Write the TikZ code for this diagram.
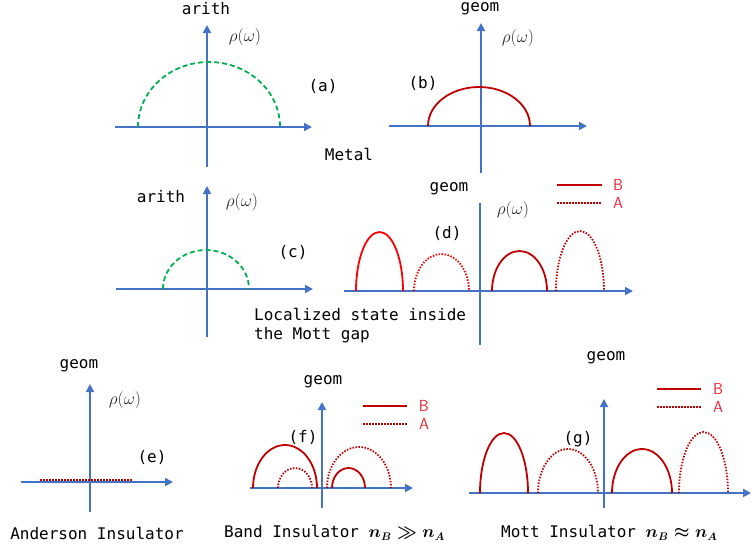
\documentclass[tikz,border=0pt]{standalone}
\usepackage{fontspec}
\setmonofont{DejaVu Sans Mono}
\usepackage{amsmath}
\usetikzlibrary{arrows.meta}
\definecolor{axisblue}{RGB}{68,114,196}
\definecolor{bandred}{RGB}{192,0,0}
\definecolor{keyred}{RGB}{232,40,56}
\definecolor{dosgreen}{RGB}{0,176,80}
\begin{document}
\begin{tikzpicture}[x=1pt,y=-1pt,
    axis/.style={axisblue,line width=1.8pt,-{Triangle[length=8pt,width=8pt]}},
    bare/.style={axisblue,line width=1.8pt},
    bsolid/.style={bandred,line width=1.8pt},
    bdot/.style={bandred,line width=1.8pt,dash pattern=on 1.5pt off 1.5pt},
    garith/.style={dosgreen,line width=1.8pt,dash pattern=on 5pt off 3pt},
    lbl/.style={font=\ttfamily\fontsize{16}{19}\selectfont,text=black,inner sep=0pt},
    rho/.style={font=\fontsize{16}{18}\selectfont,text=black!85,inner sep=0pt},
    key/.style={font=\sffamily\fontsize{16}{18}\selectfont,text=keyred,inner sep=0pt}]
            \useasboundingbox (0,0) rectangle (752,550);

            % (a) metal, arithmetic average
            \draw[axis] (207,167) -- (207,25);
            \draw[axis] (115,127) -- (312,127);
            \draw[garith] (138,127) arc[start angle=180,end angle=0,x radius=71pt,y radius=65pt];
            \node[lbl] (arithA) at (206,9) {arith};
            \node[rho] (rhoA) at (245,37) {$\rho(\omega)$};
            \node[lbl] (labA) at (323,86) {(a)};
            \node[lbl] (metal) at (349,154) {Metal};

            % (b) metal, geometric average
            \draw[axis] (481,173) -- (481,23);
            \draw[axis] (389,126) -- (587,126);
            \draw[bsolid] (428,126) arc[start angle=180,end angle=0,x radius=51pt,y radius=39pt];
            \node[lbl] (geomB) at (480,9) {geom};
            \node[rho] (rhoB) at (518,38) {$\rho(\omega)$};
            \node[lbl] (labB) at (423,83) {(b)};

            % (c) arithmetic average in the gap
            \draw[axis] (207,337) -- (207,186);
            \draw[axis] (116,289) -- (313,289);
            \draw[garith] (163,289) arc[start angle=180,end angle=0,x radius=43pt,y radius=39pt];
            \node[lbl] (arithC) at (161,197) {arith};
            \node[rho] (rhoC) at (242,202) {$\rho(\omega)$};
            \node[lbl] (labC) at (293,252) {(c)};
            \node[lbl,anchor=west,align=left] (local) at (254,326) {Localized state inside\\the Mott gap};

            % (d) geometric average in the gap
            \draw[bare] (480,345) -- (480,203);
            \draw[axis] (344,291) -- (633,291);
            \draw[bsolid,red] (356,291) arc[start angle=180,end angle=0,x radius=23.5pt,y radius=59pt];
            \draw[bdot,red] (414,291) arc[start angle=180,end angle=0,x radius=27.5pt,y radius=37pt];
            \draw[bsolid] (492,291) arc[start angle=180,end angle=0,x radius=27.5pt,y radius=40pt];
            \draw[bdot] (556,291) arc[start angle=180,end angle=0,x radius=24pt,y radius=60pt];
            \node[lbl] (geomD) at (449,189) {geom};
            \node[rho] (rhoD) at (513,210) {$\rho(\omega)$};
            \node[lbl] (labD) at (447,233) {(d)};
            \coordinate (d1) at (557,185);
            \coordinate (d2) at (602,185);
            \coordinate (d3) at (557,203);
            \coordinate (d4) at (602,203);
            \draw[bsolid] (d1) -- (d2);
            \draw[bdot] (d3) -- (d4);
            \node[key] (keyBd) at (618,185) {B};
            \node[key] (keyAd) at (618,203) {A};

            % (e) Anderson insulator
            \draw[axis] (90,512) -- (90,384);
            \draw[axis] (21,482) -- (173,482);
            \coordinate (e1) at (40,480);
            \coordinate (e2) at (133,480);
            \draw[bdot] (e1) -- (e2);
            \node[lbl] (geomE) at (79,366) {geom};
            \node[rho] (rhoE) at (125,400) {$\rho(\omega)$};
            \node[lbl] (labE) at (152,457) {(e)};
            \node[lbl] (anderson) at (97,533) {Anderson Insulator};

            % (f) band insulator
            \draw[axis] (322,508) -- (322,402);
            \draw[axis] (250,488) -- (413,488);
            \draw[bsolid] (253,488) arc[start angle=180,end angle=0,x radius=32pt,y radius=43pt];
            \draw[bdot] (278,488) arc[start angle=180,end angle=0,x radius=17pt,y radius=20pt];
            \draw[bdot] (327,488) arc[start angle=180,end angle=0,x radius=32pt,y radius=41pt];
            \draw[bsolid] (332,488) arc[start angle=180,end angle=0,x radius=16.5pt,y radius=20pt];
            \node[lbl] (geomF) at (323,382) {geom};
            \node[lbl] (labF) at (303,437) {(f)};
            \node[lbl,anchor=west] (band) at (224,533) {Band Insulator {\boldmath$n_B \gg n_A$}};
            \coordinate (f1) at (363,406);
            \coordinate (f2) at (407,406);
            \coordinate (f3) at (363,424);
            \coordinate (f4) at (407,424);
            \draw[bsolid] (f1) -- (f2);
            \draw[bdot] (f3) -- (f4);
            \node[key] (keyBf) at (424,406) {B};
            \node[key] (keyAf) at (424,424) {A};

            % (g) Mott insulator
            \draw[axis] (604,508) -- (604,399);
            \draw[axis] (469,493) -- (751,493);
            \draw[bsolid] (480,493) arc[start angle=180,end angle=0,x radius=24pt,y radius=60pt];
            \draw[bdot] (538,493) arc[start angle=180,end angle=0,x radius=30pt,y radius=44pt];
            \draw[bsolid] (612,493) arc[start angle=180,end angle=0,x radius=30pt,y radius=44pt];
            \draw[bdot] (679,493) arc[start angle=180,end angle=0,x radius=24.5pt,y radius=61pt];
            \node[lbl] (geomG) at (606,358) {geom};
            \node[lbl] (labG) at (578,439) {(g)};
            \node[lbl,anchor=west] (mott) at (501,533) {Mott Insulator {\boldmath$n_B \approx n_A$}};
            \coordinate (g1) at (657,389);
            \coordinate (g2) at (701,389);
            \coordinate (g3) at (657,407);
            \coordinate (g4) at (701,407);
            \draw[bsolid] (g1) -- (g2);
            \draw[bdot] (g3) -- (g4);
            \node[key] (keyBg) at (718,389) {B};
            \node[key] (keyAg) at (718,407) {A};
            \end{tikzpicture}
\end{document}
